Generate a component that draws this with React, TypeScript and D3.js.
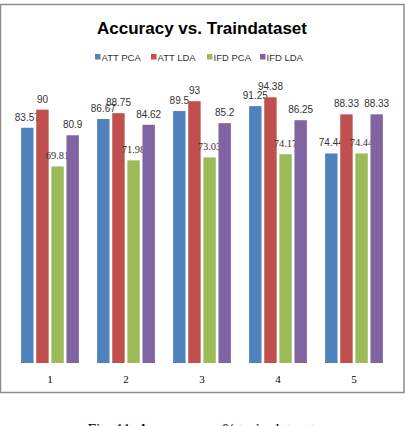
import React, { useEffect, useRef } from "react";
import { select, scaleBand, scaleLinear } from "d3";

// chart data
const categories = ["1", "2", "3", "4", "5"];
const seriesNames = ["ATT PCA", "ATT LDA", "IFD PCA", "IFD LDA"];
const attPca = [83.57, 86.67, 89.5, 91.25, 74.44];
const attLda = [90, 88.75, 93, 94.38, 88.33];
const ifdPca = [69.81, 71.98, 73.03, 74.17, 74.44];
const ifdLda = [80.9, 84.62, 85.2, 86.25, 88.33];
const colors = ["#4F81BD", "#C0504D", "#9BBB59", "#8064A2"];

const W = 406;
const H = 426;

const App = () => {
    const ref = useRef<SVGSVGElement>(null);

    useEffect(() => {
        const svg = select(ref.current);
        svg.selectAll("*").remove();

        const values = [attPca, attLda, ifdPca, ifdLda];
        const sans = "'Liberation Sans', Arial, sans-serif";
        const serif = "'Liberation Serif', 'Times New Roman', serif";

        // outer frame
        svg.append("rect")
            .attr("x", 0.5)
            .attr("y", 4.5)
            .attr("width", 403.5)
            .attr("height", 388)
            .attr("fill", "white")
            .attr("stroke", "#8c8c8c")
            .attr("stroke-width", 1.5);

        // title
        svg.append("text")
            .attr("x", 202)
            .attr("y", 34)
            .attr("text-anchor", "middle")
            .attr("font-family", sans)
            .attr("font-weight", "bold")
            .attr("font-size", 16.5)
            .attr("textLength", 210)
            .attr("lengthAdjust", "spacingAndGlyphs")
            .text("Accuracy vs. Traindataset");

        // legend
        const legendX = [95, 151, 207, 260];
        const legend = svg.append("g");
        seriesNames.forEach((name, i) => {
            legend.append("rect")
                .attr("x", legendX[i])
                .attr("y", 54)
                .attr("width", 5.5)
                .attr("height", 5.5)
                .attr("fill", colors[i]);
            legend.append("text")
                .attr("x", legendX[i] + 6.5)
                .attr("y", 60.5)
                .attr("font-family", sans)
                .attr("font-size", 9.5)
                .attr("fill", "#333")
                .text(name);
        });

        // scales
        const x = scaleBand<string>()
            .domain(categories)
            .range([12, 392])
            .paddingInner(0.24)
            .paddingOuter(0.12);
        const x1 = scaleBand<string>()
            .domain(seriesNames)
            .range([0, x.bandwidth()])
            .paddingInner(0.18);
        const y = scaleLinear().domain([0, 100]).range([363, 81.5]);

        // bars
        values.forEach((vals, s) => {
            const g = svg.append("g");
            g.selectAll("rect")
                .data(vals)
                .join("rect")
                .attr("x", (_, i) => (x(categories[i]) ?? 0) + (x1(seriesNames[s]) ?? 0))
                .attr("y", (d) => y(d))
                .attr("width", x1.bandwidth())
                .attr("height", (d) => y(0) - y(d))
                .attr("fill", colors[s]);

            g.selectAll("text")
                .data(vals)
                .join("text")
                .attr("x", (_, i) => (x(categories[i]) ?? 0) + (x1(seriesNames[s]) ?? 0) + x1.bandwidth() / 2)
                .attr("y", (d) => y(d) - 7)
                .attr("text-anchor", "middle")
                .attr("font-family", s === 2 ? serif : sans)
                .attr("font-size", s === 2 ? 10.5 : 10)
                .attr("fill", "#333")
                .text((d) => String(d));
        });

        // category labels
        svg.append("g")
            .selectAll("text")
            .data(categories)
            .join("text")
            .attr("x", (d) => (x(d) ?? 0) + x.bandwidth() / 2)
            .attr("y", 383)
            .attr("text-anchor", "middle")
            .attr("font-family", serif)
            .attr("font-size", 11)
            .text((d) => d);

        // caption, cut off by the bottom edge as in the source
        svg.append("text")
            .attr("x", 201)
            .attr("y", 434)
            .attr("text-anchor", "middle")
            .attr("font-family", serif)
            .attr("font-size", 15.5)
            .text("Fig. 11. Accuracy vs. % train dataset");
    }, []);

    return (
        <svg
            ref={ref}
            width={W}
            height={H}
            style={{ position: "absolute", left: 0, top: 0, background: "white" }}
        />
    );
};

export default App;
